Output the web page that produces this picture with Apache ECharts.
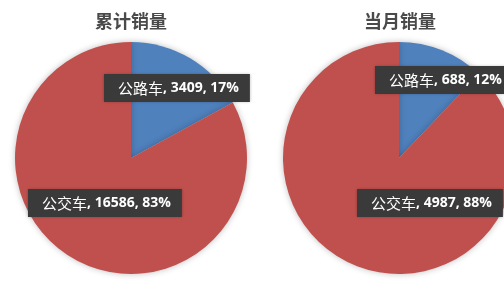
<!DOCTYPE html>
<html>
<head>
<meta charset="utf-8">
<script src="https://cdn.jsdelivr.net/npm/echarts@6/dist/echarts.min.js"></script>
<style>
  html, body { margin: 0; padding: 0; background: #fff; }
  #main { width: 504px; height: 284px; }
</style>
</head>
<body>
<div id="main"></div>
<script>
// 数据
var categories = ['公路车', '公交车'];
var totalValues = [3409, 16586];   // 累计销量
var totalPercents = [17, 83];
var monthValues = [688, 4987];     // 当月销量
var monthPercents = [12, 88];
var titles = ['累计销量', '当月销量'];

var colors = ['#4F81BD', '#C0504D'];

// 标签位置（盒子左边缘, 中线）
var labelPos = [
    [[104, 88], [28, 203]],
    [[375, 80], [357, 203]]
];

function buildData(values, percents) {
    return categories.map(function (name, i) {
        return { name: name, value: values[i], pct: percents[i] };
    });
}

function makeSeries(idx, center, values, percents) {
    return {
        type: 'pie',
        center: center,
        radius: 116,
        startAngle: 90,
        clockwise: true,
        silent: true,
        data: buildData(values, percents),
        itemStyle: {
            color: function (p) { return colors[p.dataIndex]; },
            shadowBlur: 6,
            shadowColor: 'rgba(0,0,0,0.25)'
        },
        label: {
            show: true,
            position: 'inside',
            formatter: function (p) {
                return '{a|' + p.name + '}{b|, ' + p.value + ', ' + p.data.pct + '%}';
            },
            backgroundColor: '#3a3a3a',
            padding: [7, 11, 6, 14],
            shadowBlur: 3,
            shadowColor: 'rgba(0,0,0,0.3)',
            rich: {
                a: { color: '#fff', fontSize: 15, fontFamily: 'Noto Sans CJK SC', fontWeight: 'normal' },
                b: { color: '#fff', fontSize: 14, fontFamily: 'Open Sans', fontWeight: 'bold' }
            }
        },
        labelLine: { show: false },
        labelLayout: function (p) {
            var pos = labelPos[idx][p.dataIndex];
            return { x: pos[0], y: pos[1], align: 'left', verticalAlign: 'middle' };
        }
    };
}

var myChart = echarts.init(document.getElementById('main'));

option = {
    backgroundColor: '#fff',
    animation: false,
    title: [
        {
            text: titles[0], left: 131, top: 12, textAlign: 'center', padding: 0,
            textStyle: { fontSize: 18, fontWeight: 'bold', color: '#4a4a4a', fontFamily: 'Noto Sans CJK SC' }
        },
        {
            text: titles[1], left: 400, top: 12, textAlign: 'center', padding: 0,
            textStyle: { fontSize: 18, fontWeight: 'bold', color: '#4a4a4a', fontFamily: 'Noto Sans CJK SC' }
        }
    ],
    series: [
        makeSeries(0, [131, 158], totalValues, totalPercents),
        makeSeries(1, [399, 158], monthValues, monthPercents)
    ]
};

myChart.setOption(option);
</script>
</body>
</html>
